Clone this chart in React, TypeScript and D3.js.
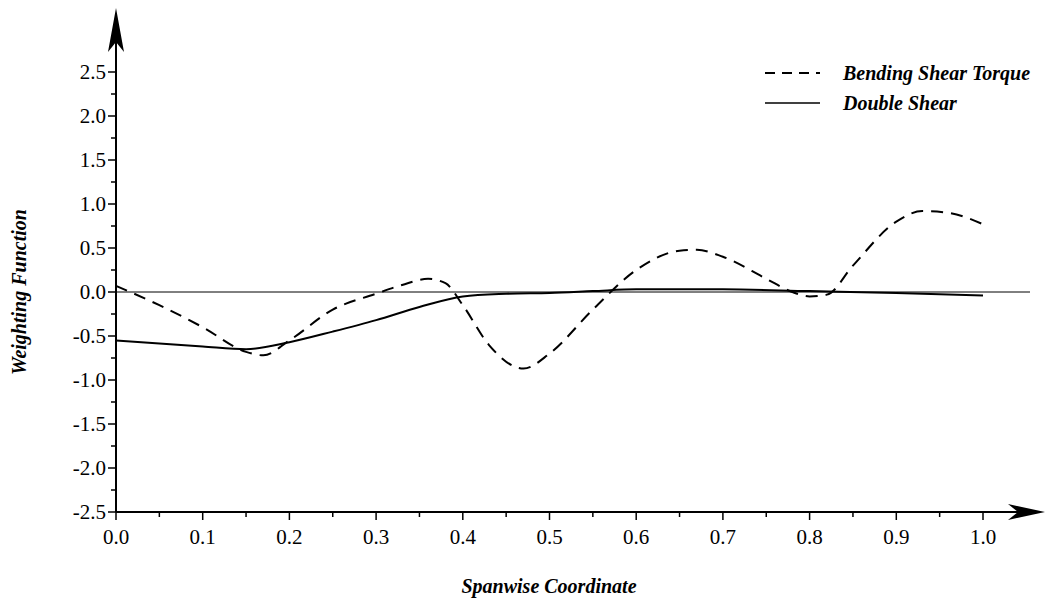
import React from "react";
import * as d3 from "d3";

const xTicks = [0, 0.1, 0.2, 0.3, 0.4, 0.5, 0.6, 0.7, 0.8, 0.9, 1.0];
const yTicks = [-2.5, -2.0, -1.5, -1.0, -0.5, 0.0, 0.5, 1.0, 1.5, 2.0, 2.5];
const bstX = [0, 0.05, 0.1, 0.15, 0.17, 0.2, 0.25, 0.3, 0.33, 0.36, 0.38, 0.4, 0.43, 0.47, 0.5, 0.55, 0.6, 0.65, 0.67, 0.7, 0.75, 0.78, 0.8, 0.82, 0.85, 0.9, 0.93, 0.96, 1.0];
const bstY = [0.07, -0.15, -0.4, -0.68, -0.72, -0.55, -0.2, -0.02, 0.08, 0.15, 0.1, -0.15, -0.6, -0.87, -0.7, -0.2, 0.25, 0.47, 0.48, 0.4, 0.15, 0.0, -0.05, -0.03, 0.3, 0.8, 0.92, 0.9, 0.77];
const dsX = [0, 0.1, 0.15, 0.2, 0.25, 0.3, 0.35, 0.4, 0.45, 0.5, 0.55, 0.6, 0.7, 0.8, 0.9, 1.0];
const dsY = [-0.55, -0.62, -0.65, -0.57, -0.45, -0.32, -0.17, -0.05, -0.02, -0.01, 0.01, 0.03, 0.03, 0.01, -0.01, -0.04];

export default function App() {
  const x = d3.scaleLinear().domain([0, 1]).range([116, 983]);
  const y = d3.scaleLinear().domain([-2.5, 2.5]).range([512, 72]);
  const line = d3.line<[number, number]>().x(d => x(d[0])).y(d => y(d[1])).curve(d3.curveMonotoneX);
  const bst = line(bstX.map((v, i) => [v, bstY[i]]))!;
  const ds = line(dsX.map((v, i) => [v, dsY[i]]))!;
  const minorX = d3.range(0.05, 1, 0.1);
  const minorY = d3.range(-2.25, 2.5, 0.5);
  const font = "'Liberation Serif', 'Times New Roman', serif";
  const x0 = x(0), yb = y(-2.5);
  return (
    <svg width={1050} height={602} style={{ position: "absolute", left: 0, top: 0, background: "#fff" }} fontFamily={font}>
      <line x1={x0} x2={1030} y1={y(0)} y2={y(0)} stroke="#000" strokeWidth={1} />
      <line x1={x0} x2={x0} y1={yb} y2={40} stroke="#000" strokeWidth={2} />
      <path d={`M${x0},8 L${x0 - 8},52 L${x0},42 L${x0 + 8},52 Z`} fill="#000" />
      <line x1={x0} x2={1020} y1={yb} y2={yb} stroke="#000" strokeWidth={2} />
      <path d={`M1045,${yb} L1008,${yb - 8} L1018,${yb} L1008,${yb + 8} Z`} fill="#000" />
      {xTicks.map(t => (
        <g key={t}>
          <line x1={x(t)} x2={x(t)} y1={yb} y2={yb + 8} stroke="#000" strokeWidth={1.5} />
          <text x={x(t)} y={yb + 32} textAnchor="middle" fontSize={21}>{t.toFixed(1)}</text>
        </g>
      ))}
      {minorX.map(t => <line key={t} x1={x(t)} x2={x(t)} y1={yb} y2={yb + 5} stroke="#000" strokeWidth={1.5} />)}
      {yTicks.map(t => (
        <g key={t}>
          <line x1={x0 - 8} x2={x0} y1={y(t)} y2={y(t)} stroke="#000" strokeWidth={1.5} />
          <text x={x0 - 10} y={y(t) + 7} textAnchor="end" fontSize={21}>{t.toFixed(1)}</text>
        </g>
      ))}
      {minorY.map(t => <line key={t} x1={x0 - 5} x2={x0} y1={y(t)} y2={y(t)} stroke="#000" strokeWidth={1.5} />)}
      <path d={bst} fill="none" stroke="#000" strokeWidth={2} strokeDasharray="12,8" />
      <path d={ds} fill="none" stroke="#000" strokeWidth={2} />
      <line x1={765} x2={820} y1={73} y2={73} stroke="#000" strokeWidth={2} strokeDasharray="10,7" />
      <line x1={765} x2={820} y1={103} y2={103} stroke="#000" strokeWidth={1.5} />
      <text x={843} y={80} fontSize={20} fontStyle="italic" fontWeight="bold">Bending Shear Torque</text>
      <text x={843} y={110} fontSize={20} fontStyle="italic" fontWeight="bold">Double Shear</text>
      <text x={549} y={593} textAnchor="middle" fontSize={20} fontStyle="italic" fontWeight="bold">Spanwise Coordinate</text>
      <text transform={`translate(26,${y(0)}) rotate(-90)`} textAnchor="middle" fontSize={20} fontStyle="italic" fontWeight="bold">Weighting Function</text>
    </svg>
  );
}
